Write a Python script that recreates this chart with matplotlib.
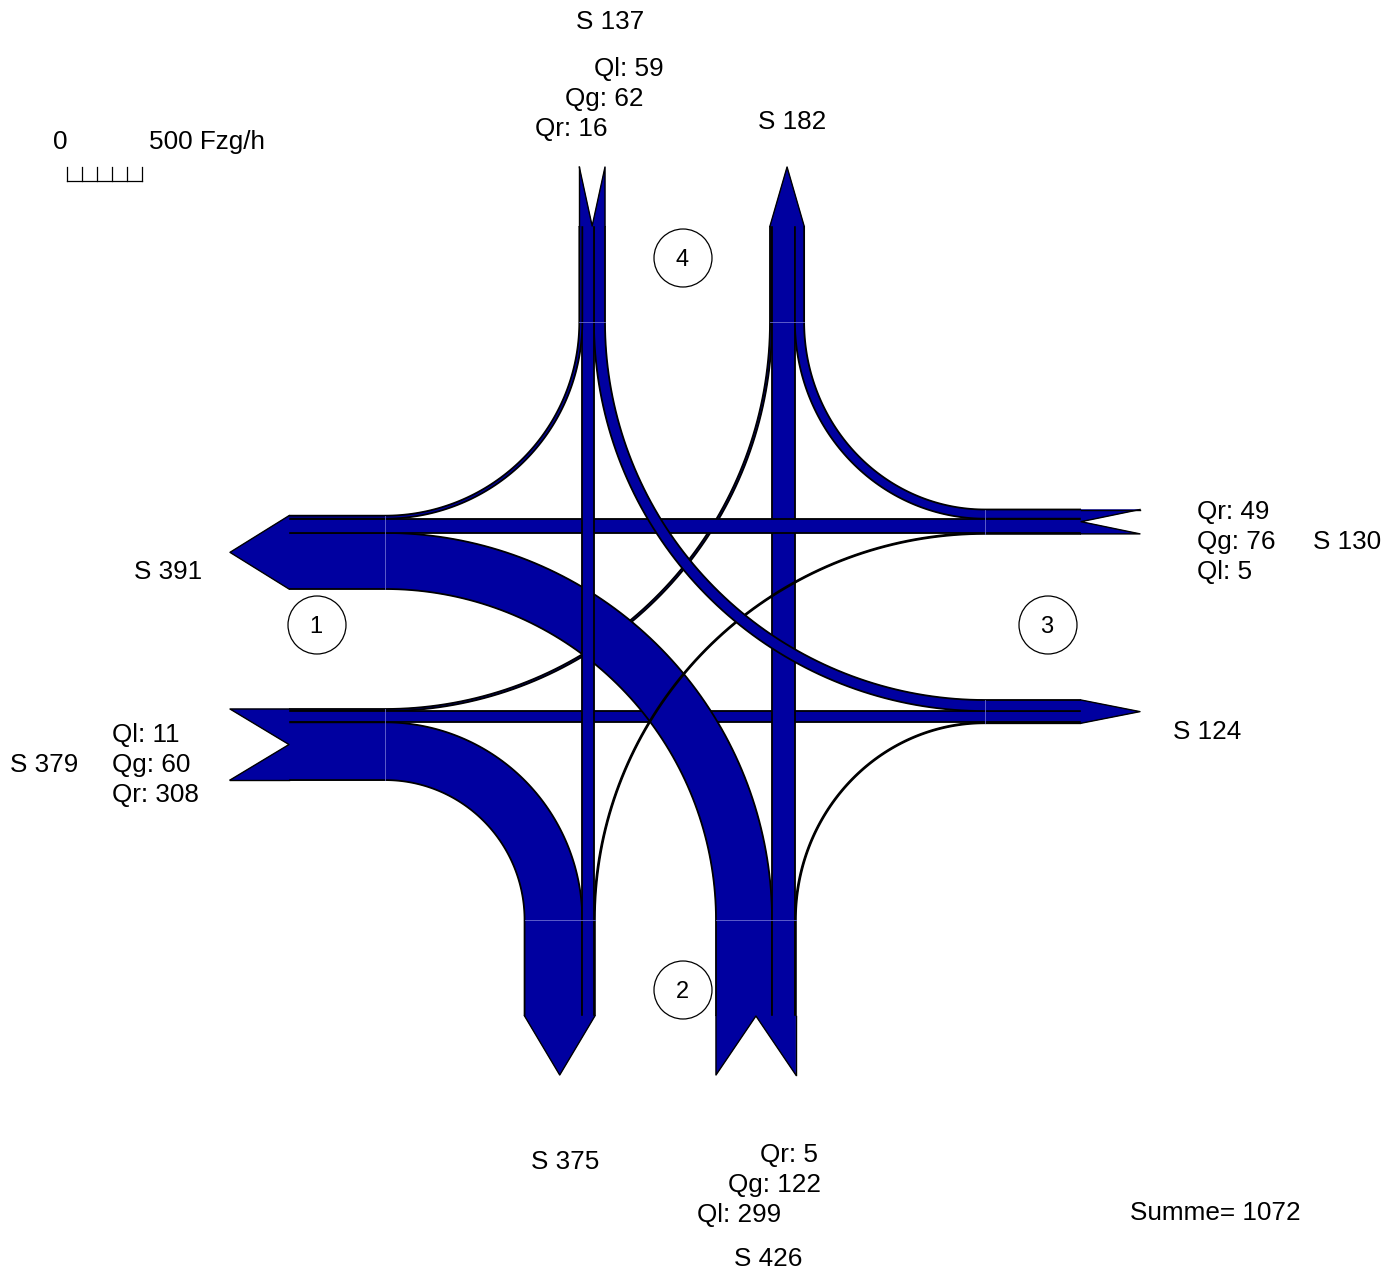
import numpy as np
import matplotlib
matplotlib.use("Agg")
import matplotlib.pyplot as plt
from matplotlib.patches import Polygon, Circle

# arms in drawing order: 1 = West, 2 = South, 3 = East, 4 = North
arm_names = ["1", "2", "3", "4"]
ql = [11, 299, 5, 59]      # left turners entering from each arm (Fzg/h)
qg = [60, 122, 76, 62]     # straight
qr = [308, 5, 49, 16]      # right turners
scale_value = 500          # scale bar label (Fzg/h)

# ---------------------------------------------------------------- layout ----
BLUE = "#0000a0"
SEAM = "#6b6bd0"
PX = 0.1875                              # px per vehicle
XL, XR, YT, YB = 385, 985, 322, 920      # intersection box
CX, CY, GAP = 660.5, 644.5, 55.5         # lane centre + gap to inner lanes
ARM_LEN, TIP = 96, 59
LW = 1.3

# per arm: lateral axis centre, entering side sign
lat_centre = [CY, CX, CY, CX]
sign_in = [1, 1, -1, -1]


def pt(arm, lat, dist):
    """point at lateral coordinate lat, dist px outward of the box edge"""
    if arm == 0:
        return (XL - dist, lat)
    if arm == 1:
        return (lat, YB + dist)
    if arm == 2:
        return (XR + dist, lat)
    return (lat, YT - dist)


def corner(a, b):
    s = {a, b}
    x = XL if 0 in s else XR
    y = YB if 1 in s else YT
    return np.array([x, y], float)


# inner edges of entering / exiting bands, aligned so straight flows run through
e_in = [0.0] * 4
e_out = [0.0] * 4
for i in range(4):
    j = (i + 2) % 4
    off = GAP + max(ql[i], ql[(i + 3) % 4]) * PX
    e_in[i] = lat_centre[i] + sign_in[i] * (off - ql[i] * PX)
    e_out[j] = lat_centre[i] + sign_in[i] * (off - ql[(i + 3) % 4] * PX)

# lateral intervals of each flow at the entering and the exiting arm
flows = []   # (from, to, (a0, a1), (b0, b1))
for i in range(4):
    pos = e_in[i]
    dest = [(i + 3) % 4, (i + 2) % 4, (i + 1) % 4]
    for q, j in zip([ql[i], qg[i], qr[i]], dest):
        a = (pos, pos + sign_in[i] * q * PX)
        pos = a[1]
        flows.append([i, j, a, None])

for j in range(4):
    pos = e_out[j]
    src = [(j + 1) % 4, (j + 2) % 4, (j + 3) % 4]
    for i in src:
        f = next(f for f in flows if f[0] == i and f[1] == j)
        q = abs(f[2][1] - f[2][0]) / PX
        b = (pos, pos - sign_in[j] * q * PX)
        pos = b[1]
        f[3] = b

tot_in = [ql[i] + qg[i] + qr[i] for i in range(4)]
tot_out = [sum(abs(f[3][1] - f[3][0]) / PX for f in flows if f[1] == j) for j in range(4)]
tot_out = [int(round(v)) for v in tot_out]

# ---------------------------------------------------------------- figure ----
plt.rcParams["font.family"] = ["Liberation Sans", "DejaVu Sans"]
fig = plt.figure(figsize=(13.97, 12.72), dpi=100)
ax = fig.add_axes([0, 0, 1, 1])
ax.set_xlim(0, 1397)
ax.set_ylim(1272, 0)
ax.axis("off")

t = np.linspace(0, np.pi / 2, 80)
z = 2
for i, j, a, b in flows:
    if (i + 2) % 4 == j:   # straight through
        edges = [[pt(i, a[k], ARM_LEN), pt(j, a[k], ARM_LEN)] for k in (0, 1)]
    else:
        C = corner(i, j)
        ci = C[1] if i in (0, 2) else C[0]
        cj = C[1] if j in (0, 2) else C[0]
        aa = sorted(a, key=lambda v: abs(v - ci))
        bb = sorted(b, key=lambda v: abs(v - cj))
        edges = []
        for k in (0, 1):
            Pa = np.array(pt(i, aa[k], 0)) - C
            Pb = np.array(pt(j, bb[k], 0)) - C
            arc = C + np.outer(np.cos(t), Pa) + np.outer(np.sin(t), Pb)
            edges.append([pt(i, aa[k], ARM_LEN)] + [tuple(p) for p in arc]
                         + [pt(j, bb[k], ARM_LEN)])
    poly = edges[0] + edges[1][::-1]
    ax.add_patch(Polygon(poly, closed=True, facecolor=BLUE, edgecolor=BLUE,
                         lw=0.3, zorder=z))
    for e in edges:
        e = np.array(e)
        ax.plot(e[:, 0], e[:, 1], color="black", lw=LW, zorder=z + 0.5,
                solid_capstyle="butt")
    z += 1

# arm ends: swallowtail on entering band, arrowhead on exiting band
for k in range(4):
    inner, outer = e_in[k], e_in[k] + sign_in[k] * tot_in[k] * PX
    mid = (inner + outer) / 2
    pts = [pt(k, inner, ARM_LEN), pt(k, inner, ARM_LEN + TIP), pt(k, mid, ARM_LEN),
           pt(k, outer, ARM_LEN + TIP), pt(k, outer, ARM_LEN)]
    ax.add_patch(Polygon(pts, closed=True, facecolor=BLUE, edgecolor=BLUE,
                         lw=0.3, zorder=z))
    p = np.array(pts)
    ax.plot(p[:4, 0], p[:4, 1], color="black", lw=1.0, zorder=z + 0.5)
    ax.plot(p[3:, 0], p[3:, 1], color="black", lw=1.0, zorder=z + 0.5)

    inner, outer = e_out[k], e_out[k] - sign_in[k] * tot_out[k] * PX
    mid = (inner + outer) / 2
    pts = [pt(k, inner, ARM_LEN), pt(k, mid, ARM_LEN + TIP), pt(k, outer, ARM_LEN)]
    ax.add_patch(Polygon(pts, closed=True, facecolor=BLUE, edgecolor=BLUE,
                         lw=0.3, zorder=z))
    p = np.array(pts)
    ax.plot(p[:, 0], p[:, 1], color="black", lw=1.0, zorder=z + 0.5)

    # faint seams where the arm meets the box
    for lo, hi in [(e_in[k], e_in[k] + sign_in[k] * tot_in[k] * PX),
                   (e_out[k], e_out[k] - sign_in[k] * tot_out[k] * PX)]:
        s = np.array([pt(k, lo, 0), pt(k, hi, 0)])
        ax.plot(s[:, 0], s[:, 1], color=SEAM, lw=0.6, zorder=z + 0.6)
    z += 1

# labels ---------------------------------------------------------------------
FS = 18.8
txt = dict(fontsize=FS, va="center", color="black")
DY = 2

# arm number circles
circ_pos = [(317, 625), (683, 990), (1048, 625), (683, 258)]
for name, (x, y) in zip(arm_names, circ_pos):
    ax.add_patch(Circle((x, y), 29, facecolor="none", edgecolor="black",
                        lw=0.9, zorder=z))
    ax.text(x - 1, y + DY, name, ha="center", va="center", fontsize=17)

# west (1)
ax.text(168, 570 + DY, f"S {tot_out[0]}", ha="center", **txt)
ax.text(10, 763 + DY, f"S {tot_in[0]}", ha="left", **txt)
ax.text(112, 733 + DY, f"Ql: {ql[0]}", ha="left", **txt)
ax.text(112, 763 + DY, f"Qg: {qg[0]}", ha="left", **txt)
ax.text(112, 793 + DY, f"Qr: {qr[0]}", ha="left", **txt)
# south (2)
ax.text(565, 1160 + DY, f"S {tot_out[1]}", ha="center", **txt)
ax.text(760, 1153 + DY, f"Qr: {qr[1]}", ha="left", **txt)
ax.text(728, 1183 + DY, f"Qg: {qg[1]}", ha="left", **txt)
ax.text(697, 1213 + DY, f"Ql: {ql[1]}", ha="left", **txt)
ax.text(768, 1257 + DY, f"S {tot_in[1]}", ha="center", **txt)
# east (3)
ax.text(1197, 510 + DY, f"Qr: {qr[2]}", ha="left", **txt)
ax.text(1197, 540 + DY, f"Qg: {qg[2]}", ha="left", **txt)
ax.text(1197, 570 + DY, f"Ql: {ql[2]}", ha="left", **txt)
ax.text(1313, 540 + DY, f"S {tot_in[2]}", ha="left", **txt)
ax.text(1173, 730 + DY, f"S {tot_out[2]}", ha="left", **txt)
# north (4)
ax.text(610, 20 + DY, f"S {tot_in[3]}", ha="center", **txt)
ax.text(594, 67 + DY, f"Ql: {ql[3]}", ha="left", **txt)
ax.text(565, 97 + DY, f"Qg: {qg[3]}", ha="left", **txt)
ax.text(535, 127 + DY, f"Qr: {qr[3]}", ha="left", **txt)
ax.text(792, 120 + DY, f"S {tot_out[3]}", ha="center", **txt)

ax.text(1130, 1211 + DY, f"Summe= {sum(tot_in)}", ha="left", **txt)

# scale bar
SCALE_LEN = 75
x0, yb, yt = 67, 181, 167
ax.text(60, 140 + DY, "0", ha="center", **txt)
ax.text(149, 140 + DY, f"{scale_value} Fzg/h", ha="left", **txt)
ax.plot([x0, x0 + SCALE_LEN], [yb, yb], color="black", lw=0.9)
for k in range(6):
    xx = x0 + k * SCALE_LEN / 5
    ax.plot([xx, xx], [yb, yt], color="black", lw=0.9)

fig.savefig("out.png", dpi=100)
